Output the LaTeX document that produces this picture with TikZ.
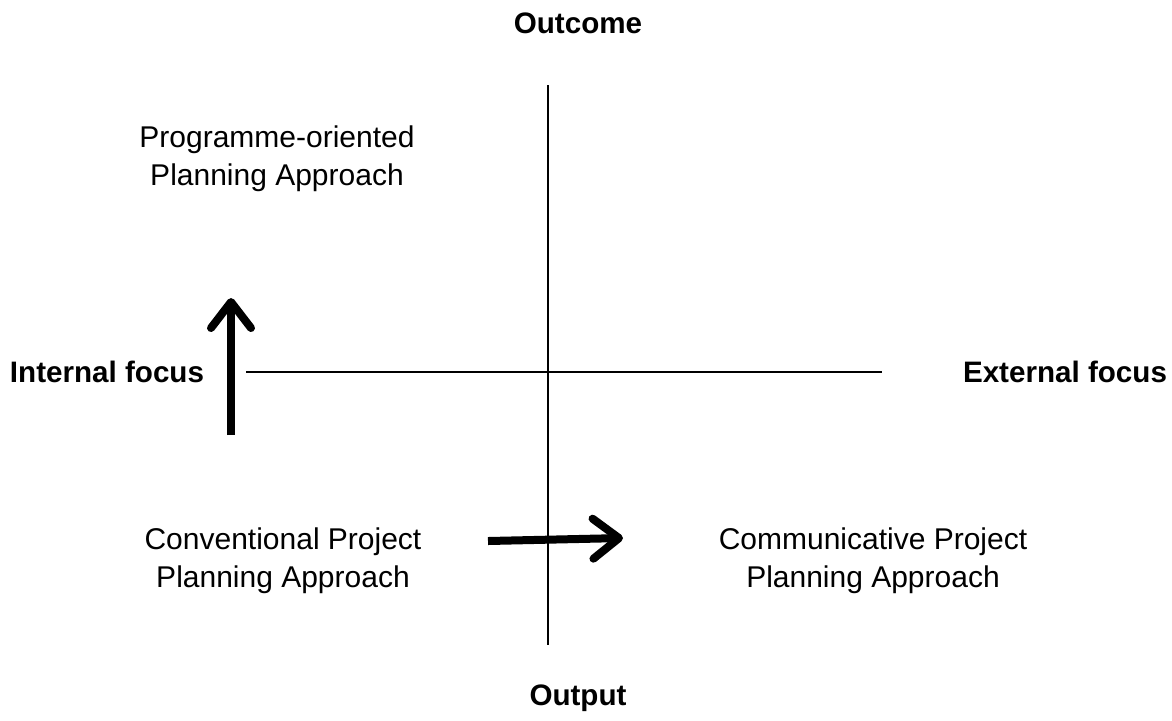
\documentclass[tikz,border=0pt]{standalone}
\usepackage{fontspec}
\setmainfont{Liberation Sans}
\usetikzlibrary{arrows.meta}
\begin{document}
\begin{tikzpicture}[x=0.5pt,y=-0.5pt,
  lbl/.style={font=\fontsize{15}{19}\selectfont, align=center, inner sep=0pt},
  axlbl/.style={font=\fontsize{14.8}{18}\selectfont\bfseries, inner sep=0pt},
  axis/.style={line width=0.75pt},
  bigarrow/.style={line width=4pt, -{Straight Barb[round, length=13pt, width=20pt]}}]
\useasboundingbox (0,0) rectangle (1172,720);
\node[axlbl] (outcome) at (578,23) {Outcome};
\node[axlbl] (output) at (578,698) {Output};
\node[axlbl] (internal) at (107,372) {Internal focus};
\node[axlbl] (external) at (1065,372) {External focus};
\coordinate (vtop) at (548,85);
\coordinate (vbot) at (548,645);
\coordinate (hleft) at (246,372);
\coordinate (hright) at (882,372);
\draw[axis] (vtop) -- (vbot);
\draw[axis] (hleft) -- (hright);
\node[lbl] (prog) at (277,159) {Programme-oriented\\Planning Approach};
\node[lbl] (conv) at (283,561) {Conventional Project\\Planning Approach};
\node[lbl] (comm) at (873,561) {Communicative Project\\Planning Approach};
\coordinate (ua1) at (231,435);
\coordinate (ua2) at (231,298);
\coordinate (ra1) at (488,541);
\coordinate (ra2) at (623,538);
\draw[bigarrow] (ua1) -- (ua2);
\draw[bigarrow] (ra1) -- (ra2);
\end{tikzpicture}
\end{document}
